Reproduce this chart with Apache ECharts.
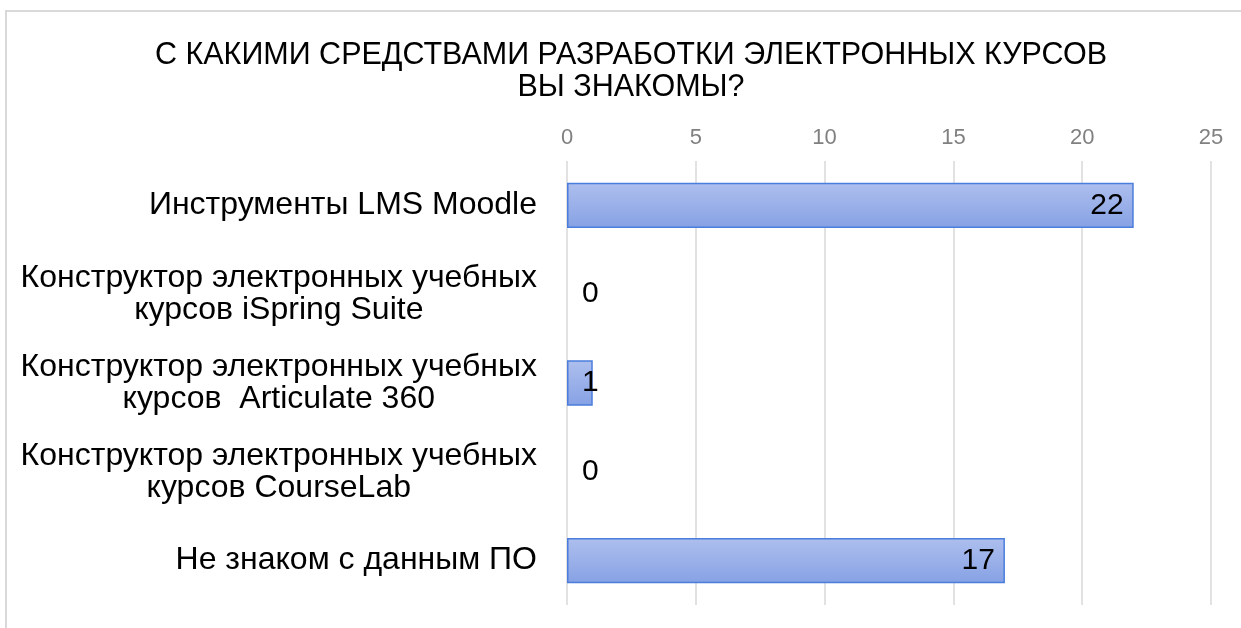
<!DOCTYPE html>
<html lang="ru">

<head>
  <meta charset="UTF-8">
  <title>Средства разработки электронных курсов</title>
  <style>
    html, body { margin: 0; padding: 0; background: #fff; }
  </style>
</head>

<body>
  <div id="main" style="width: 1241px; height: 628px;"></div>

  <script src="https://cdn.jsdelivr.net/npm/echarts@6.0.0/dist/echarts.min.js"></script>

  <script type="text/javascript">
    // данные опроса
    const titleText = 'С КАКИМИ СРЕДСТВАМИ РАЗРАБОТКИ ЭЛЕКТРОННЫХ КУРСОВ\nВЫ ЗНАКОМЫ?';
    const categories = [
      'Инструменты LMS Moodle',
      'Конструктор электронных учебных\nкурсов iSpring Suite',
      'Конструктор электронных учебных\nкурсов  Articulate 360',
      'Конструктор электронных учебных\nкурсов CourseLab',
      'Не знаком с данным ПО'
    ];
    const values = [22, 0, 1, 0, 17];
    const axisMin = 0;
    const axisMax = 25;
    const axisStep = 5;

    const font = "'Liberation Sans', Arial, sans-serif";

    var myChart = echarts.init(document.getElementById('main'));

    // маленькие столбики - подпись сразу справа от оси, у нулевых нет рамки
    var barData = values.map(v => {
      var item = { value: v };
      if (v < 2) {
        item.label = { position: 'insideLeft', distance: 15 };
      }
      if (v === 0) {
        item.itemStyle = { borderWidth: 0 };
      }
      return item;
    });

    var option = {
      animation: false,
      backgroundColor: '#fff',
      textStyle: { fontFamily: font },
      graphic: [{
        type: 'rect',
        shape: { x: 6, y: 11, width: 1300, height: 700 },
        style: { fill: 'none', stroke: '#d9d9d9', lineWidth: 2 },
        silent: true
      }],
      title: {
        text: titleText,
        left: 626,
        top: 35,
        textAlign: 'center',
        textStyle: {
          fontFamily: font,
          fontSize: 30.5,
          fontWeight: 'normal',
          color: '#000',
          lineHeight: 32
        }
      },
      grid: {
        left: 567,
        right: 30,
        top: 161,
        bottom: 23,
        outerBoundsMode: 'none'
      },
      xAxis: {
        type: 'value',
        position: 'top',
        min: axisMin,
        max: axisMax,
        interval: axisStep,
        axisLine: { show: false },
        axisTick: { show: false },
        axisLabel: {
          margin: 12,
          fontSize: 22,
          color: '#808080',
          fontFamily: font
        },
        splitLine: {
          lineStyle: { color: '#d9d9d9', width: 1.5 }
        }
      },
      yAxis: {
        type: 'category',
        inverse: true,
        data: categories,
        axisLine: { show: false },
        axisTick: { show: false },
        axisLabel: {
          align: 'right',
          margin: 30,
          fontSize: 32,
          lineHeight: 32,
          color: '#000',
          fontFamily: font,
          formatter: function (v) {
            return v.split('\n').map(s => '{c|' + s + '}').join('\n');
          },
          rich: {
            c: { align: 'center', fontSize: 32, lineHeight: 32, color: '#000', fontFamily: font }
          }
        }
      },
      series: [{
        type: 'bar',
        data: barData,
        barWidth: '51%',
        itemStyle: {
          color: new echarts.graphic.LinearGradient(0, 0, 0, 1, [
            { offset: 0, color: '#aebfee' },
            { offset: 1, color: '#86a1e4' }
          ]),
          borderColor: '#4a7ddc',
          borderWidth: 1.5
        },
        label: {
          show: true,
          position: 'insideRight',
          distance: 10,
          fontSize: 30,
          color: '#000',
          fontFamily: font
        }
      }]
    };

    myChart.setOption(option);
  </script>
</body>

</html>
